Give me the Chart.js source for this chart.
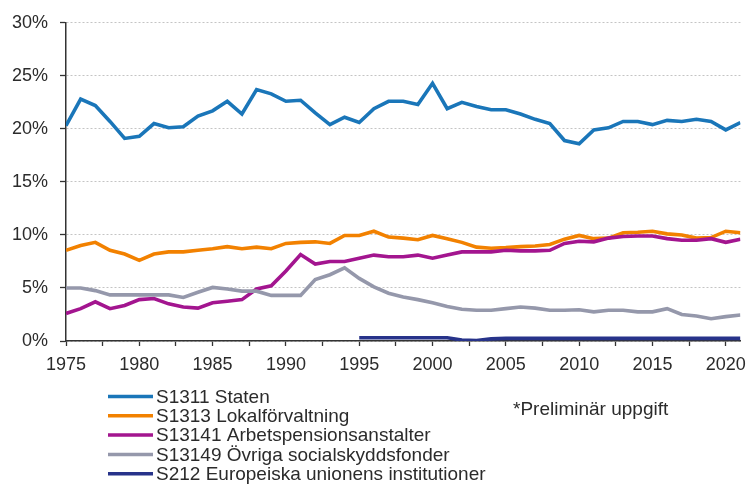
<!DOCTYPE html>
<html><head><meta charset="utf-8">
<script src="https://cdn.jsdelivr.net/npm/chart.js@4/dist/chart.umd.min.js"></script>
<style>html,body{margin:0;padding:0;background:#fff;}canvas{display:block;}</style>
</head><body>
<canvas id="c" width="754" height="484"></canvas>
<script>
const years = [];
for (let y = 1975; y <= 2021; y++) years.push(y);

const seriesLabels = [
  'S1311 Staten',
  'S1313 Lokalförvaltning',
  'S13141 Arbetspensionsanstalter',
  'S13149 Övriga socialskyddsfonder',
  'S212 Europeiska unionens institutioner'
];
const noteText = '*Preliminär uppgift';

const staten = [20.3,22.8,22.2,20.7,19.1,19.3,20.5,20.1,20.2,21.2,21.7,22.6,21.4,23.7,23.3,22.6,22.7,21.5,20.4,21.1,20.6,21.9,22.6,22.6,22.3,24.3,21.9,22.5,22.1,21.8,21.8,21.4,20.9,20.5,18.9,18.6,19.9,20.1,20.7,20.7,20.4,20.8,20.7,20.9,20.7,19.9,20.6];
const lokal = [8.55,9.0,9.3,8.55,8.2,7.6,8.2,8.4,8.4,8.55,8.7,8.9,8.7,8.85,8.7,9.2,9.3,9.35,9.2,9.95,9.95,10.35,9.8,9.7,9.55,9.95,9.65,9.3,8.85,8.75,8.8,8.9,8.95,9.1,9.6,9.95,9.65,9.7,10.2,10.25,10.35,10.1,10.0,9.7,9.75,10.35,10.2];
const arbets = [2.6,3.05,3.7,3.05,3.35,3.9,4.0,3.5,3.2,3.1,3.6,3.75,3.9,4.9,5.2,6.6,8.15,7.25,7.5,7.5,7.8,8.1,7.95,7.95,8.1,7.8,8.1,8.4,8.4,8.4,8.55,8.5,8.5,8.55,9.2,9.4,9.35,9.7,9.85,9.9,9.9,9.65,9.5,9.5,9.65,9.3,9.6];
const ovriga = [5.0,5.0,4.75,4.35,4.35,4.35,4.35,4.35,4.1,4.6,5.05,4.9,4.7,4.7,4.3,4.3,4.3,5.8,6.25,6.9,5.9,5.1,4.5,4.15,3.9,3.6,3.25,3.0,2.9,2.9,3.05,3.2,3.1,2.9,2.9,2.95,2.75,2.9,2.9,2.75,2.75,3.05,2.5,2.35,2.1,2.3,2.45];
const eu = [null,null,null,null,null,null,null,null,null,null,null,null,null,null,null,null,null,null,null,null,0.3,0.3,0.3,0.3,0.3,0.3,0.3,0.1,0.05,0.2,0.25,0.25,0.25,0.25,0.25,0.25,0.25,0.25,0.25,0.25,0.25,0.25,0.25,0.25,0.25,0.25,0.25];

const colors = ['#1a76b9', '#f28100', '#a3158f', '#9598ab', '#27338a'];
const allSeries = [staten, lokal, arbets, ovriga, eu];

const xTickValues = [];
for (let v = 1975; v <= 2020; v += 2.5) xTickValues.push(v);

const FONT = '"Liberation Sans", Arial, sans-serif';
const textColor = '#2b2b2b';
const axisColor = '#333333';

const datasets = allSeries.map((vals, i) => ({
  label: seriesLabels[i],
  data: years.map((yr, j) => ({x: yr, y: vals[j]})),
  borderColor: colors[i],
  backgroundColor: colors[i],
  borderWidth: 3.6,
  pointRadius: 0,
  tension: 0,
  spanGaps: false,
  order: allSeries.length - i
}));

const legendPlugin = {
  id: 'customLegend',
  afterDraw(chart) {
    const ctx = chart.ctx;
    ctx.save();
    ctx.font = '19px ' + FONT;
    ctx.textBaseline = 'middle';
    ctx.textAlign = 'left';
    chart.data.datasets.forEach((ds, i) => {
      const y = 396.5 + i * 19.3;
      ctx.strokeStyle = ds.borderColor;
      ctx.lineWidth = 3.5;
      ctx.beginPath();
      ctx.moveTo(108, y);
      ctx.lineTo(153, y);
      ctx.stroke();
      ctx.fillStyle = textColor;
      ctx.fillText(ds.label, 156, y + 1);
    });
    ctx.fillText(noteText, 513, 410);
    ctx.restore();
  }
};

new Chart(document.getElementById('c'), {
  type: 'line',
  data: {datasets},
  options: {
    responsive: false,
    animation: false,
    devicePixelRatio: 1,
    layout: {padding: {top: 19, right: 10, bottom: 0, left: 0}},
    plugins: {legend: {display: false}, tooltip: {enabled: false}},
    scales: {
      x: {
        type: 'linear',
        min: 1975,
        max: 2021,
        afterBuildTicks: s => { s.ticks = xTickValues.map(v => ({value: v})); },
        afterFit: s => { s.height = 143; },
        ticks: {
          autoSkip: false,
          maxRotation: 0,
          minRotation: 0,
          padding: 8,
          color: textColor,
          font: {family: FONT, size: 18},
          callback: v => (v % 5 === 0 ? String(v) : '')
        },
        grid: {drawOnChartArea: false, drawTicks: true, tickLength: 5, tickColor: axisColor, tickWidth: 1.3},
        border: {display: true, color: axisColor, width: 1.5}
      },
      y: {
        min: 0,
        max: 30,
        afterFit: s => { s.width = 66; },
        ticks: {
          stepSize: 5,
          padding: 12,
          color: textColor,
          font: {family: FONT, size: 18},
          callback: v => v + '%'
        },
        grid: {color: '#c4c4c4', lineWidth: 1, drawTicks: true, tickLength: 6, tickColor: axisColor, tickWidth: 1.3},
        border: {display: true, color: axisColor, width: 1.5, dash: [2, 2]}
      }
    }
  },
  plugins: [legendPlugin]
});
</script>
</body></html>
